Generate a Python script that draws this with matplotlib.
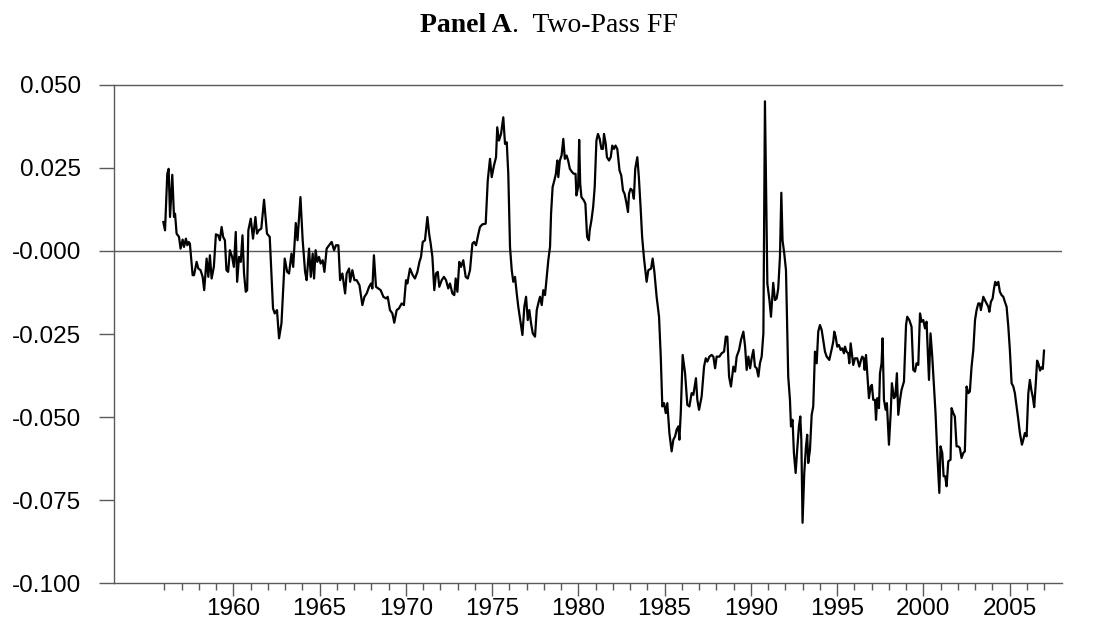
import matplotlib.pyplot as plt
from matplotlib.ticker import FixedLocator

# ==========================
# 1. Data
# ==========================
years = [
    1955.94, 1956.04, 1956.17, 1956.25, 1956.33, 1956.46, 1956.56, 1956.62, 1956.71, 1956.85,
    1956.94, 1957.06, 1957.14, 1957.25, 1957.33, 1957.41, 1957.48, 1957.64, 1957.72, 1957.87,
    1957.97, 1958.10, 1958.22, 1958.31, 1958.45, 1958.55, 1958.64, 1958.74, 1958.87, 1958.99,
    1959.12, 1959.22, 1959.32, 1959.41, 1959.51, 1959.60, 1959.70, 1959.80, 1959.93, 1960.03,
    1960.14, 1960.22, 1960.33, 1960.43, 1960.53, 1960.62, 1960.72, 1960.80, 1960.87, 1961.01,
    1961.14, 1961.28, 1961.37, 1961.47, 1961.62, 1961.78, 1961.95, 1962.11, 1962.30, 1962.40,
    1962.53, 1962.65, 1962.79, 1962.98, 1963.12, 1963.23, 1963.37, 1963.47, 1963.62, 1963.72,
    1963.89,
    1964.02, 1964.16, 1964.25, 1964.39, 1964.49, 1964.60, 1964.68, 1964.77, 1964.87, 1964.97,
    1965.06, 1965.18, 1965.28, 1965.41, 1965.55, 1965.70, 1965.84, 1965.95, 1966.09, 1966.19,
    1966.32, 1966.48, 1966.57, 1966.71, 1966.77, 1966.90, 1967.02, 1967.15, 1967.31, 1967.48,
    1967.60, 1967.73, 1967.87, 1967.98, 1968.06, 1968.15, 1968.27, 1968.40, 1968.54, 1968.70,
    1968.85, 1968.95, 1969.08, 1969.22, 1969.33, 1969.47, 1969.60, 1969.76, 1969.89, 1970.01,
    1970.09, 1970.24, 1970.40, 1970.53, 1970.67, 1970.79, 1970.88, 1970.98, 1971.11, 1971.25,
    1971.35, 1971.44, 1971.54, 1971.65, 1971.75, 1971.85, 1971.94, 1972.08, 1972.21, 1972.33,
    1972.46, 1972.56, 1972.70, 1972.81, 1972.89, 1972.99, 1973.10, 1973.20, 1973.33, 1973.47,
    1973.59, 1973.72, 1973.86, 1973.96, 1974.07, 1974.21, 1974.30, 1974.44, 1974.63, 1974.75,
    1974.88, 1974.98, 1975.11, 1975.23, 1975.30, 1975.40, 1975.52, 1975.65, 1975.75, 1975.85,
    1975.94, 1976.04, 1976.14, 1976.23, 1976.33, 1976.43, 1976.52, 1976.66, 1976.76, 1976.87,
    1976.97, 1977.07, 1977.16, 1977.26, 1977.36, 1977.49, 1977.59, 1977.68, 1977.78, 1977.88,
    1977.97, 1978.07, 1978.17, 1978.26, 1978.36, 1978.42, 1978.51, 1978.61, 1978.70, 1978.78,
    1978.84, 1978.93, 1979.03, 1979.13, 1979.22, 1979.32, 1979.41, 1979.51, 1979.64, 1979.74,
    1979.84, 1979.89, 1979.99, 1980.05, 1980.11, 1980.18, 1980.32, 1980.41, 1980.51, 1980.61,
    1980.66, 1980.76, 1980.86, 1980.95, 1981.05, 1981.14, 1981.24, 1981.34, 1981.43, 1981.49,
    1981.59, 1981.66, 1981.78, 1981.88, 1981.97, 1982.07, 1982.16, 1982.26, 1982.39, 1982.49,
    1982.59, 1982.68, 1982.78, 1982.88, 1982.94, 1983.03, 1983.13, 1983.22, 1983.30, 1983.42,
    1983.51, 1983.61, 1983.70,
    1983.81, 1983.96, 1984.06, 1984.22, 1984.31, 1984.41, 1984.54, 1984.68, 1984.78, 1984.87,
    1984.97, 1985.07, 1985.16, 1985.28, 1985.41, 1985.51, 1985.61, 1985.70, 1985.80, 1985.86,
    1985.94, 1986.05, 1986.19, 1986.32, 1986.44, 1986.57, 1986.67, 1986.82, 1986.90, 1987.00,
    1987.15, 1987.29, 1987.39, 1987.48, 1987.60, 1987.73, 1987.83, 1987.93, 1988.02, 1988.18,
    1988.31, 1988.45, 1988.55, 1988.64, 1988.74, 1988.85, 1988.99, 1989.09, 1989.18, 1989.32,
    1989.43, 1989.57, 1989.67, 1989.76, 1989.86, 1989.96, 1990.05, 1990.15, 1990.24, 1990.34,
    1990.44, 1990.53, 1990.63, 1990.73, 1990.82, 1990.96, 1991.08, 1991.17,
    1991.30, 1991.40, 1991.50, 1991.59, 1991.69, 1991.77, 1991.84, 1991.94, 1992.04, 1992.11,
    1992.17, 1992.27, 1992.33, 1992.42, 1992.50, 1992.60, 1992.69, 1992.79, 1992.87, 1992.93,
    1993.00, 1993.10, 1993.20, 1993.27, 1993.33, 1993.43, 1993.53, 1993.62, 1993.72, 1993.82,
    1993.91, 1994.01, 1994.11, 1994.20, 1994.30, 1994.40, 1994.55, 1994.68, 1994.78, 1994.84,
    1994.92, 1995.01, 1995.11, 1995.21, 1995.30, 1995.40, 1995.46, 1995.55, 1995.65, 1995.71,
    1995.79, 1995.88, 1995.94, 1996.04, 1996.17, 1996.29, 1996.39, 1996.46, 1996.54, 1996.60,
    1996.68, 1996.75, 1996.85, 1996.95, 1997.02, 1997.10, 1997.20, 1997.26, 1997.33, 1997.43,
    1997.49, 1997.58, 1997.64, 1997.72, 1997.82, 1997.89, 1998.01, 1998.11, 1998.18, 1998.30,
    1998.38, 1998.47, 1998.55, 1998.65, 1998.74, 1998.88, 1999.00, 1999.07, 1999.19, 1999.32,
    1999.42, 1999.52, 1999.61, 1999.71, 1999.81, 1999.90, 2000.00, 2000.10, 2000.19, 2000.33,
    2000.42, 2000.52, 2000.62, 2000.71, 2000.81, 2000.93, 2001.00, 2001.10, 2001.18, 2001.27,
    2001.35, 2001.45, 2001.58, 2001.64, 2001.74, 2001.83, 2001.93, 2002.03, 2002.12, 2002.22,
    2002.32, 2002.41, 2002.51, 2002.61, 2002.70, 2002.80, 2002.90, 2003.00, 2003.09, 2003.19,
    2003.28, 2003.34, 2003.48, 2003.57, 2003.67, 2003.77, 2003.83, 2003.92, 2004.02, 2004.10,
    2004.17, 2004.25, 2004.35, 2004.44, 2004.54, 2004.64, 2004.73, 2004.83, 2004.93, 2005.02,
    2005.12, 2005.22, 2005.31, 2005.41, 2005.51, 2005.60, 2005.72, 2005.80, 2005.89, 2005.99,
    2006.09, 2006.18, 2006.27, 2006.35, 2006.43, 2006.52, 2006.60, 2006.68, 2006.77, 2006.85,
    2006.93, 2007.00,
]

values = [
    0.0087, 0.0062, 0.0232, 0.0247, 0.0102, 0.0229, 0.0102, 0.0112, 0.0052, 0.0042,
    0.0007, 0.0034, 0.0012, 0.0037, 0.0017, 0.0027, 0.0022, -0.0073, -0.0073, -0.0033,
    -0.0053, -0.0058, -0.0078, -0.0118, -0.0023, -0.0078, -0.0013, -0.0083, -0.0048, 0.0050,
    0.0047, 0.0032, 0.0072, 0.0042, 0.0032, -0.0058, -0.0063, 0.0002, -0.0018, -0.0048,
    0.0057, -0.0093, -0.0018, -0.0033, 0.0047, -0.0068, -0.0123, -0.0118, 0.0062, 0.0097,
    0.0037, 0.0102, 0.0052, 0.0062, 0.0067, 0.0154, 0.0052, 0.0042, -0.0173, -0.0188,
    -0.0178, -0.0263, -0.0218, -0.0023, -0.0063, -0.0068, -0.0008, -0.0048, 0.0084, 0.0032,
    0.0162,
    0.0032, -0.0063, -0.0088, 0.0007, -0.0078, -0.0008, -0.0083, 0.0002, -0.0033, -0.0018,
    -0.0038, -0.0028, -0.0063, 0.0007, 0.0017, 0.0027, 0.0002, 0.0017, 0.0017, -0.0088,
    -0.0068, -0.0128, -0.0068, -0.0053, -0.0093, -0.0058, -0.0088, -0.0088, -0.0103, -0.0163,
    -0.0138, -0.0128, -0.0108, -0.0098, -0.0113, -0.0013, -0.0108, -0.0113, -0.0118, -0.0138,
    -0.0143, -0.0138, -0.0178, -0.0188, -0.0216, -0.0178, -0.0173, -0.0158, -0.0163, -0.0088,
    -0.0098, -0.0053, -0.0073, -0.0083, -0.0063, -0.0033, -0.0018, 0.0027, 0.0032, 0.0102,
    0.0052, 0.0022, -0.0018, -0.0118, -0.0068, -0.0063, -0.0108, -0.0088, -0.0078, -0.0088,
    -0.0113, -0.0098, -0.0128, -0.0133, -0.0083, -0.0123, -0.0033, -0.0048, -0.0028, -0.0078,
    -0.0083, -0.0058, 0.0022, 0.0027, 0.0017, 0.0052, 0.0072, 0.0080, 0.0082, 0.0212,
    0.0277, 0.0222, 0.0257, 0.0282, 0.0372, 0.0332, 0.0352, 0.0402, 0.0322, 0.0327,
    0.0232, 0.0012, -0.0058, -0.0093, -0.0078, -0.0128, -0.0168, -0.0218, -0.0253, -0.0168,
    -0.0138, -0.0208, -0.0178, -0.0218, -0.0248, -0.0258, -0.0178, -0.0158, -0.0138, -0.0163,
    -0.0118, -0.0133, -0.0078, -0.0028, 0.0012, 0.0112, 0.0192, 0.0212, 0.0232, 0.0272,
    0.0222, 0.0272, 0.0287, 0.0337, 0.0277, 0.0287, 0.0272, 0.0247, 0.0237, 0.0232,
    0.0232, 0.0167, 0.0192, 0.0334, 0.0202, 0.0162, 0.0152, 0.0142, 0.0042, 0.0032,
    0.0062, 0.0092, 0.0132, 0.0192, 0.0332, 0.0352, 0.0337, 0.0307, 0.0307, 0.0352,
    0.0322, 0.0282, 0.0272, 0.0282, 0.0317, 0.0307, 0.0317, 0.0307, 0.0242, 0.0227,
    0.0182, 0.0172, 0.0147, 0.0117, 0.0172, 0.0187, 0.0182, 0.0157, 0.0247, 0.0282,
    0.0222, 0.0132, 0.0042,
    -0.0023, -0.0093, -0.0058, -0.0053, -0.0023, -0.0063, -0.0138, -0.0198, -0.0318, -0.0468,
    -0.0458, -0.0488, -0.0458, -0.0548, -0.0603, -0.0568, -0.0558, -0.0538, -0.0528, -0.0568,
    -0.0488, -0.0313, -0.0368, -0.0463, -0.0468, -0.0428, -0.0433, -0.0383, -0.0448, -0.0478,
    -0.0438, -0.0348, -0.0323, -0.0333, -0.0318, -0.0313, -0.0318, -0.0353, -0.0318, -0.0318,
    -0.0308, -0.0303, -0.0258, -0.0258, -0.0378, -0.0408, -0.0348, -0.0363, -0.0318, -0.0298,
    -0.0268, -0.0243, -0.0288, -0.0358, -0.0318, -0.0353, -0.0323, -0.0298, -0.0348, -0.0353,
    -0.0378, -0.0338, -0.0318, -0.0248, 0.0450, -0.0098, -0.0148, -0.0198,
    -0.0096, -0.0148, -0.0143, -0.0113, -0.0018, 0.0175, 0.0032, -0.0008, -0.0058, -0.0228,
    -0.0378, -0.0448, -0.0528, -0.0508, -0.0608, -0.0668, -0.0598, -0.0528, -0.0498, -0.0568,
    -0.0818, -0.0668, -0.0588, -0.0553, -0.0638, -0.0598, -0.0493, -0.0468, -0.0303, -0.0338,
    -0.0243, -0.0223, -0.0238, -0.0268, -0.0303, -0.0318, -0.0328, -0.0298, -0.0273, -0.0243,
    -0.0258, -0.0288, -0.0283, -0.0298, -0.0293, -0.0308, -0.0288, -0.0303, -0.0308, -0.0338,
    -0.0278, -0.0318, -0.0343, -0.0323, -0.0323, -0.0348, -0.0328, -0.0318, -0.0323, -0.0358,
    -0.0313, -0.0368, -0.0443, -0.0408, -0.0403, -0.0448, -0.0448, -0.0508, -0.0443, -0.0473,
    -0.0368, -0.0338, -0.0263, -0.0448, -0.0478, -0.0458, -0.0583, -0.0488, -0.0398, -0.0443,
    -0.0438, -0.0368, -0.0493, -0.0448, -0.0418, -0.0393, -0.0223, -0.0198, -0.0208, -0.0228,
    -0.0358, -0.0363, -0.0338, -0.0343, -0.0188, -0.0213, -0.0208, -0.0233, -0.0213, -0.0388,
    -0.0248, -0.0318, -0.0408, -0.0488, -0.0608, -0.0728, -0.0588, -0.0608, -0.0678, -0.0678,
    -0.0708, -0.0633, -0.0628, -0.0473, -0.0488, -0.0498, -0.0588, -0.0588, -0.0593, -0.0623,
    -0.0608, -0.0603, -0.0408, -0.0428, -0.0423, -0.0348, -0.0298, -0.0208, -0.0178, -0.0158,
    -0.0158, -0.0178, -0.0138, -0.0148, -0.0158, -0.0168, -0.0183, -0.0153, -0.0143, -0.0113,
    -0.0093, -0.0103, -0.0093, -0.0123, -0.0133, -0.0138, -0.0153, -0.0168, -0.0228, -0.0298,
    -0.0398, -0.0408, -0.0428, -0.0468, -0.0508, -0.0548, -0.0583, -0.0568, -0.0548, -0.0558,
    -0.0428, -0.0388, -0.0420, -0.0440, -0.0470, -0.0400, -0.0330, -0.0340, -0.0360, -0.0350,
    -0.0355, -0.0300,
]

y_ticks = [0.050, 0.025, 0.0, -0.025, -0.050, -0.075, -0.100]
y_tick_labels = ["0.050", "0.025", "-0.000", "-0.025", "-0.050", "-0.075", "-0.100"]
x_ticks = [1960, 1965, 1970, 1975, 1980, 1985, 1990, 1995, 2000, 2005]
minor_years = [y for y in range(1956, 2008) if y not in x_ticks]

# ==========================
# 2. Figure / axes
# ==========================
fig = plt.figure(figsize=(10.93, 6.22), dpi=100)
ax = fig.add_axes([0.1046, 0.0622, 0.867, 0.8016])

axis_gray = "#5a5a5a"

ax.plot(years, values, color="black", lw=1.6, zorder=3)
ax.axhline(0.0, color=axis_gray, lw=1.0, zorder=2)

ax.set_xlim(1953.1, 2008.04)
ax.set_ylim(-0.100, 0.050)

ax.set_yticks(y_ticks)
ax.set_yticklabels(y_tick_labels, fontfamily="Liberation Sans", fontsize=17.5)
ax.set_xticks(x_ticks)
ax.set_xticklabels([str(t) for t in x_ticks], fontfamily="Liberation Sans", fontsize=17.5)
ax.xaxis.set_minor_locator(FixedLocator(minor_years))

ax.tick_params(axis="y", direction="out", length=10.8, width=1.0, color=axis_gray, pad=13)
ax.tick_params(axis="x", which="major", direction="out", length=9.4, width=1.0,
               color=axis_gray, pad=1.0)
ax.tick_params(axis="x", which="minor", direction="out", length=4.7, width=1.0,
               color=axis_gray)

for side in ["left", "bottom", "top"]:
    ax.spines[side].set_color(axis_gray)
    ax.spines[side].set_linewidth(1.0)
ax.spines["right"].set_visible(False)

# ==========================
# 3. Title (bold part + normal part)
# ==========================
fig.text(0.4684, 0.949, "Panel A", ha="right", va="baseline",
         fontfamily="Liberation Serif", fontweight="bold", fontsize=20)
fig.text(0.4684, 0.949, ".  Two-Pass FF", ha="left", va="baseline",
         fontfamily="Liberation Serif", fontsize=20)

fig.savefig("out.png", dpi=100)
